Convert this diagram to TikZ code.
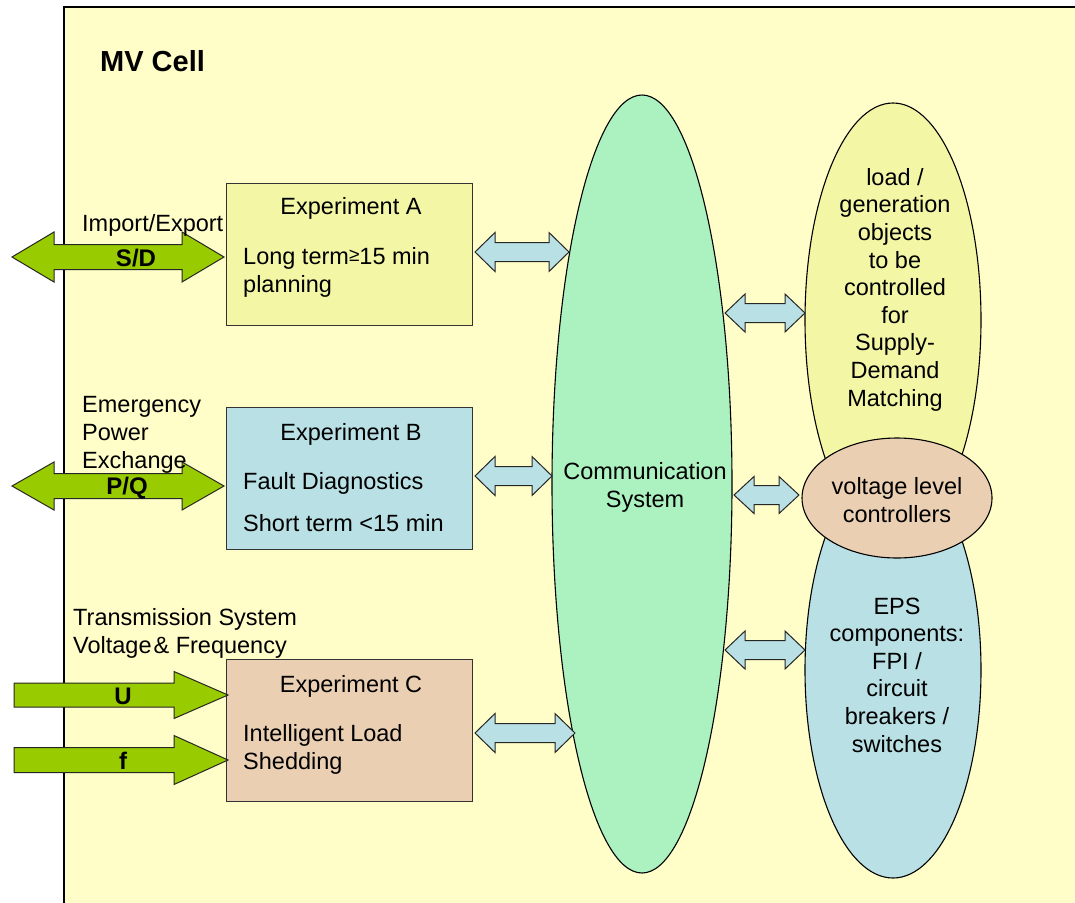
\documentclass[tikz,border=0pt]{standalone}
\usepackage{fontspec}
\setmainfont{Liberation Sans}
\usetikzlibrary{shapes.geometric}
\definecolor{cellbg}{RGB}{255,253,200}
\definecolor{boxA}{RGB}{243,247,165}
\definecolor{boxB}{RGB}{185,224,228}
\definecolor{boxC}{RGB}{234,207,178}
\definecolor{commc}{RGB}{172,242,192}
\definecolor{arrblue}{RGB}{185,224,228}
\definecolor{arrgreen}{RGB}{153,204,0}
% double block arrow: x1, x2, y, head length, half head width, half shaft width, style
\newcommand\dblarr[7]{%
  \draw[#7] (#1,#3) -- (#1+#4,#3-#5) -- (#1+#4,#3-#6) -- (#2-#4,#3-#6) -- (#2-#4,#3-#5)
    -- (#2,#3) -- (#2-#4,#3+#5) -- (#2-#4,#3+#6) -- (#1+#4,#3+#6) -- (#1+#4,#3+#5) -- cycle;}
% single block arrow pointing right
\newcommand\sglarr[7]{%
  \draw[#7] (#1,#3-#6) -- (#2-#4,#3-#6) -- (#2-#4,#3-#5) -- (#2,#3) -- (#2-#4,#3+#5)
    -- (#2-#4,#3+#6) -- (#1,#3+#6) -- cycle;}
\begin{document}
\begin{tikzpicture}[x=1pt,y=-1pt,
  txt/.style={font=\fontsize{23.5}{27.6}\selectfont, inner sep=0pt, align=center},
  ltxt/.style={txt, align=left, anchor=base west},
  ctxt/.style={txt, anchor=base},
  lbl/.style={font=\bfseries\fontsize{24}{28}\selectfont, inner sep=0pt, anchor=base},
  expbox/.style={draw=black!80, line width=1.2pt, anchor=north west, minimum width=246pt, minimum height=142pt, inner sep=0pt},
  blob/.style={ellipse, draw=black, line width=1.1pt, inner sep=0pt},
  bluearr/.style={draw=black!85, fill=arrblue, line width=1pt, line join=miter},
  greenarr/.style={draw=black!85, fill=arrgreen, line width=1pt, line join=miter}]
\useasboundingbox (0,0) rectangle (1075,902);
\fill[white] (0,0) rectangle (1075,902);
% MV cell
\draw[fill=cellbg, line width=1.5pt] (64,7) rectangle (1090,915);
\node[font=\bfseries\fontsize{29}{33}\selectfont, inner sep=0pt, anchor=base west] (title) at (100,71) {MV Cell};

% experiment boxes
\node[expbox, fill=boxA] (expA) at (226,183) {};
\node[expbox, fill=boxB] (expB) at (226,407) {};
\node[expbox, fill=boxC] (expC) at (226,659) {};

% ellipses
\node[blob, fill=commc, minimum width=180pt, minimum height=778pt] (comm) at (642,484) {};
\node[blob, fill=boxA, minimum width=176pt, minimum height=434pt] (loadell) at (893,320) {};
\node[blob, fill=boxB, minimum width=176pt, minimum height=416pt] (epsell) at (893,670) {};
\node[blob, fill=boxC, minimum width=190pt, minimum height=120pt] (volt) at (897,498) {};

% blue double arrows
\dblarr{475}{569}{252}{20}{19.5}{9.5}{bluearr}
\dblarr{475}{552}{476}{20}{19.5}{9.5}{bluearr}
\dblarr{475}{575}{733}{20}{19.5}{9.5}{bluearr}
\dblarr{725}{805}{313}{20}{19}{9.5}{bluearr}
\dblarr{734}{799}{495}{20}{18.5}{9.5}{bluearr}
\dblarr{725}{805}{650}{20}{19}{9.5}{bluearr}

% green arrows
\dblarr{12}{224}{257}{42}{25}{12.5}{greenarr}
\dblarr{12}{224}{486}{42}{24}{12.5}{greenarr}
\sglarr{14}{228}{695}{54}{23.5}{12}{greenarr}
\sglarr{14}{228}{760}{54}{24.5}{12.5}{greenarr}

% left labels (base = baseline of last line)
\node[ltxt] (impexp) at (82,231) {Import/Export};
\node[lbl] (sd) at (136,266) {S/D};
\node[ltxt] (emerg) at (82,468) {Emergency\\Power\\Exchange};
\node[lbl] (pq) at (127,494) {P/Q};
\node[ltxt] (trans) at (73,653) {Transmission System\\Voltage{\kern2pt}\& Frequency};
\node[lbl] (u) at (123,704) {U};
\node[lbl] (f) at (123,769) {f};

% box texts
\node[ctxt] (tA) at (351,214) {Experiment A};
\node[ltxt] (tA2) at (243,292) {Long term{\fontsize{19}{19}\selectfont\raisebox{3pt}{≥}}15 min\\planning};
\node[ctxt] (tB) at (351,440) {Experiment B};
\node[ltxt] (tB2) at (243,489) {Fault Diagnostics};
\node[ltxt] (tB3) at (243,531) {Short term <15 min};
\node[ctxt] (tC) at (351,692) {Experiment C};
\node[ltxt] (tC2) at (243,769) {Intelligent Load\\Shedding};

% ellipse texts
\node[ctxt] (tcomm) at (645,507) {Communication\\System};
\node[ctxt] (tload) at (895,406) {load /\\generation\\objects\\to be\\controlled\\for\\Supply-\\Demand\\Matching};
\node[ctxt] (tvolt) at (897,522) {voltage level\\controllers};
\node[ctxt] (teps) at (897,752) {EPS\\components:\\FPI /\\circuit\\breakers /\\switches};
\end{tikzpicture}
\end{document}
